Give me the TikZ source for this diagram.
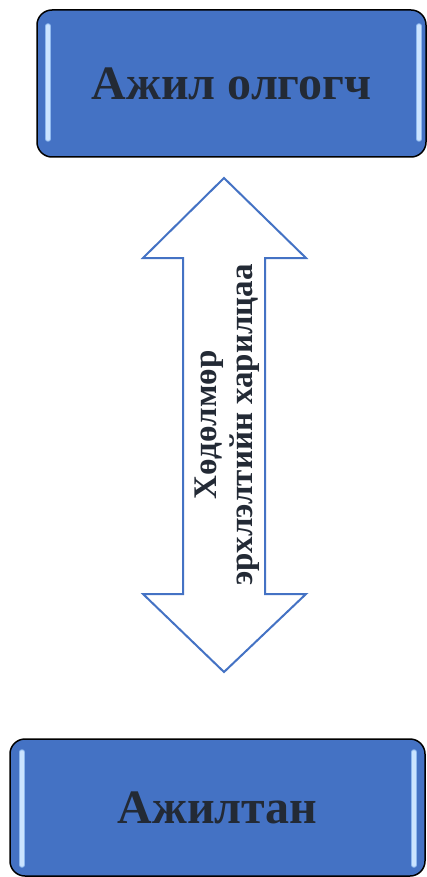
\documentclass[tikz,border=0pt]{standalone}
\usepackage{fontspec}
\setmainfont{Liberation Serif}
\definecolor{boxblue}{HTML}{4472C4}
\definecolor{txtdark}{HTML}{232A35}
\definecolor{gloss}{HTML}{CBE4FF}
\definecolor{glossedge}{HTML}{8FB8EE}
\tikzset{
  glossbox/.style={draw=black, line width=1.5pt, fill=boxblue, rounded corners=15pt,
    inner sep=0pt, text=txtdark, font=\bfseries\fontsize{48}{52}\selectfont},
  glossline/.style={draw=gloss, line width=3.5pt, line cap=round},
  glossrim/.style={draw=glossedge, line width=5.5pt, line cap=round},
  bigarrow/.style={draw=boxblue, line width=2pt, fill=white, line join=miter},
  arrowtext/.style={rotate=90, align=center, text=txtdark, inner sep=0pt,
    font=\bfseries\fontsize{33}{36}\selectfont}
}
\begin{document}
\begin{tikzpicture}[x=1pt,y=-1pt]
\useasboundingbox (0,0) rectangle (427,877);
\fill[white] (0,0) rectangle (427,877);
\node[glossbox, minimum width=389pt, minimum height=147pt] (employer) at (231.5,83.5) {};
\draw[glossrim] (48,26) -- (48,139);
\draw[glossrim] (419,26) -- (419,139);
\draw[glossline] (48,26) -- (48,139);
\draw[glossline] (419,26) -- (419,139);
\node[text=txtdark, font=\bfseries\fontsize{48}{52}\selectfont, inner sep=0pt] (employerlabel) at (employer.center) {Ажил олгогч};
\node[glossbox, minimum width=415pt, minimum height=137pt] (employee) at (217.5,807.5) {};
\draw[glossrim] (22,752) -- (22,865);
\draw[glossrim] (414,752) -- (414,865);
\draw[glossline] (22,752) -- (22,865);
\draw[glossline] (414,752) -- (414,865);
\node[text=txtdark, font=\bfseries\fontsize{48}{52}\selectfont, inner sep=0pt] (employeelabel) at (employee.center) {Ажилтан};
\coordinate (tipT) at (224,178);
\coordinate (tipB) at (224,672);
\draw[bigarrow] (tipT) -- (306,258) -- (265,258) -- (265,594) -- (306,594) -- (tipB)
  -- (143,594) -- (183,594) -- (183,258) -- (143,258) -- cycle;
\node[arrowtext] (reltext) at (227,425) {Хөдөлмөр\\эрхлэлтийн харилцаа};
\end{tikzpicture}
\end{document}
